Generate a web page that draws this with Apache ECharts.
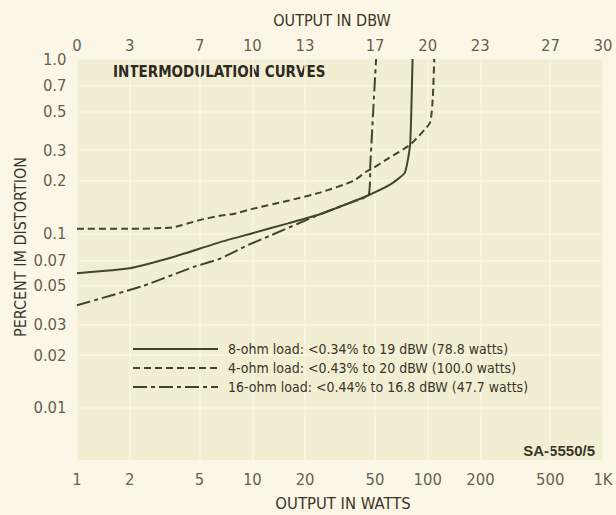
<!DOCTYPE html>
<html><head><meta charset="utf-8">
<script src="https://cdn.jsdelivr.net/npm/echarts@6/dist/echarts.min.js"></script>
<style>html,body{margin:0;padding:0;background:#fbf6e6;}#c{width:616px;height:515px;}</style>
</head><body><div id="c"></div>
<script>
// ---- data ----
const watts8 = [1, 2, 3.5, 6.5, 10, 16, 24.3, 35, 45, 61, 74, 79.4, 82];
const pct8   = [0.059, 0.063, 0.0728, 0.0887, 0.1, 0.114, 0.1286, 0.148, 0.1636, 0.19, 0.222, 0.322, 1.0];

const watts4 = [1, 2, 3.5, 5, 6.5, 7.8, 10, 15.7, 24.3, 37.7, 45, 49, 60, 79.4, 103, 107, 109];
const pct4   = [0.106, 0.106, 0.108, 0.119, 0.126, 0.129, 0.138, 0.153, 0.171, 0.1995, 0.227, 0.237, 0.27, 0.322, 0.43, 0.6, 1.0];

const watts16 = [1, 2.4, 4.6, 6.5, 9.3, 12.6, 18, 24.3, 35, 46, 47.1, 48.9, 50.8];
const pct16   = [0.0386, 0.05, 0.064, 0.0713, 0.085, 0.0968, 0.113, 0.1286, 0.148, 0.166, 0.25, 0.5, 1.0];

const seriesNames = [
  '8-ohm load: <0.34% to 19 dBW (78.8 watts)',
  '4-ohm load: <0.43% to 20 dBW (100.0 watts)',
  '16-ohm load: <0.44% to 16.8 dBW (47.7 watts)'
];

const yTicks      = [1.0, 0.7, 0.5, 0.3, 0.2, 0.1, 0.07, 0.05, 0.03, 0.02, 0.01];
const yTickLabels = ['1.0', '0.7', '0.5', '0.3', '0.2', '0.1', '0.07', '0.05', '0.03', '0.02', '0.01'];
const wattTicks      = [1, 2, 5, 10, 20, 50, 100, 200, 500, 1000];
const wattTickLabels = ['1', '2', '5', '10', '20', '50', '100', '200', '500', '1K'];
const dbwTicks = [0, 3, 7, 10, 13, 17, 20, 23, 27, 30];

const X_MIN = 1, X_MAX = 1000, Y_MIN = 0.005, Y_MAX = 1.0;

// ---- chart ----
const F = "'Liberation Sans Narrow','DejaVu Sans Condensed','Roboto Condensed','Liberation Sans',sans-serif";
const TXT = '#3a3527';
const LINE = '#42452d';

const chart = echarts.init(document.getElementById('c'), null, {renderer: 'svg', width: 616, height: 515});

function pairs(xs, ys) { return xs.map((x, i) => [x, ys[i]]); }

function labelSeries(items, position, distance) {
  return {
    type: 'scatter', silent: true, clip: false, symbolSize: 1,
    itemStyle: {color: 'transparent'},
    data: items,
    label: {show: true, position: position, distance: distance, formatter: '{b}',
            color: TXT, fontFamily: F, fontSize: 16.5},
    z: 5
  };
}

const yLabelItems = yTicks.map((v, i) => ({name: yTickLabels[i], value: [X_MIN, v]}));
const bottomItems = wattTicks.map((v, i) => ({name: wattTickLabels[i], value: [v, Y_MIN]}));
const topItems = dbwTicks.map(d => ({name: String(d), value: [Math.pow(10, d / 10), Y_MAX]}));

const gridLineData = yTicks.map(v => ({yAxis: v})).concat(wattTicks.map(v => ({xAxis: v})));

function txt(x, y, text, size, align, extra) {
  return Object.assign({type: 'text', x: x, y: y, style: {text: text, fill: TXT, fontFamily: F, fontSize: size,
    align: align, verticalAlign: 'middle', textAlign: align, textVerticalAlign: 'middle'}}, extra || {});
}

const option = {
  backgroundColor: '#fbf6e6',
  animation: false,
  grid: {left: 77, right: 13, top: 59, bottom: 55, show: true, backgroundColor: '#f2eed4', borderWidth: 0},
  xAxis: {type: 'log', logBase: 10, min: X_MIN, max: X_MAX,
          axisLine: {show: false}, axisTick: {show: false}, axisLabel: {show: false}, splitLine: {show: false}},
  yAxis: {type: 'log', logBase: 10, min: Y_MIN, max: Y_MAX,
          axisLine: {show: false}, axisTick: {show: false}, axisLabel: {show: false}, splitLine: {show: false}},
  legend: {
    orient: 'vertical', left: 132, top: 342, padding: 0, itemWidth: 85, itemHeight: 14, itemGap: 5,
    data: seriesNames, z: 6,
    itemStyle: {opacity: 0, color: 'transparent', borderWidth: 0},
    textStyle: {color: TXT, fontFamily: F, fontSize: 14, padding: [0, 0, 0, 5]},
    selectedMode: false
  },
  graphic: [
    txt(332, 20, 'OUTPUT IN DBW', 16, 'center'),
    {type: 'text', x: 113, y: 72, style: {text: 'INTERMODULATION CURVES', fill: '#2e2a1f', fontFamily: F, fontSize: 15, fontWeight: 'bold',
      align: 'left', verticalAlign: 'middle', textAlign: 'left', textVerticalAlign: 'middle'}},
    txt(20, 247, 'PERCENT IM DISTORTION', 16, 'center', {rotation: Math.PI / 2}),
    txt(343, 503, 'OUTPUT IN WATTS', 16.5, 'center'),
    {type: 'text', x: 595, y: 450, style: {text: 'SA-5550/5', fill: '#3a3527', fontFamily: "'Liberation Sans','DejaVu Sans',sans-serif", fontSize: 15, fontWeight: 'bold',
      align: 'right', verticalAlign: 'middle', textAlign: 'right', textVerticalAlign: 'middle'}}
  ],
  series: [
    {type: 'scatter', data: [], silent: true, z: 1,
     markLine: {silent: true, z: 1, symbol: 'none', label: {show: false}, animation: false,
                lineStyle: {color: '#f7f4e2', width: 1.5, type: 'solid'}, data: gridLineData}},
    {name: seriesNames[0], type: 'line', data: pairs(watts8, pct8), showSymbol: false, symbol: 'none', smooth: 0.15,
     lineStyle: {color: LINE, width: 2, type: 'solid'}, itemStyle: {color: LINE}, z: 3},
    {name: seriesNames[1], type: 'line', data: pairs(watts4, pct4), showSymbol: false, symbol: 'none', smooth: 0.15,
     lineStyle: {color: LINE, width: 2, type: [7, 4]}, itemStyle: {color: LINE}, z: 3},
    {name: seriesNames[2], type: 'line', data: pairs(watts16, pct16), showSymbol: false, symbol: 'none', smooth: 0.15,
     lineStyle: {color: LINE, width: 2, type: [14, 4, 4, 4]}, itemStyle: {color: LINE}, z: 3},
    labelSeries(yLabelItems, 'left', 10),
    labelSeries(bottomItems, 'bottom', 10),
    labelSeries(topItems, 'top', 5)
  ]
};
chart.setOption(option);
</script>
</body></html>
